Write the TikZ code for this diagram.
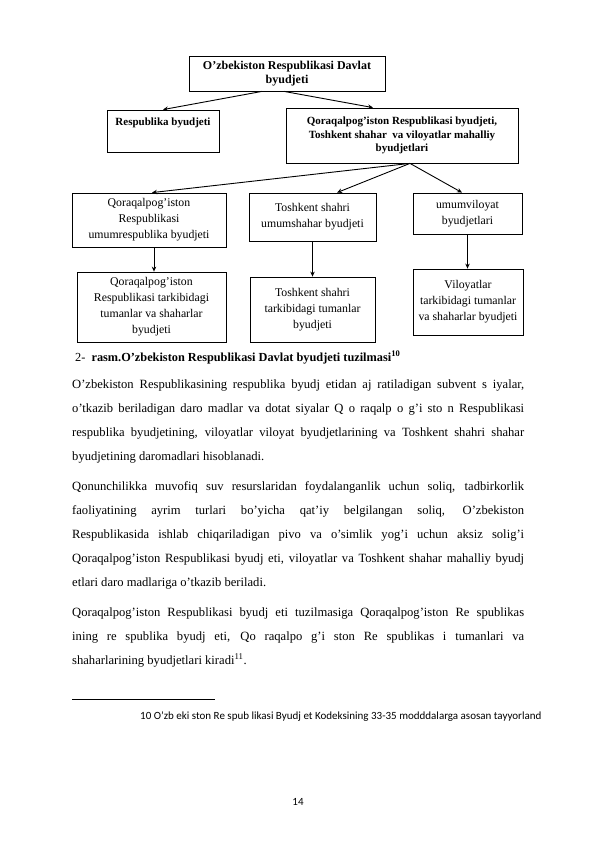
\documentclass[tikz,border=0pt]{standalone}
\usepackage{fontspec}
\setmainfont{Liberation Serif}
\newfontfamily\calibri{Carlito}
\usetikzlibrary{arrows.meta}

\begin{document}
\begin{tikzpicture}[x=1pt, y=-1pt,
  box/.style={draw, line width=0.8pt, inner sep=0pt, align=center, font=\fontsize{11.8}{16}\selectfont},
  hbox/.style={box, font=\bfseries\fontsize{11}{13.5}\selectfont},
  arr/.style={-{Stealth[length=5pt, width=4.5pt]}, line width=0.9pt},
  txt/.style={anchor=base west, inner sep=0pt, font=\fontsize{12.6}{14}\selectfont}]
\useasboundingbox (0,0) rectangle (596,842);

% Draw the boxes of the scheme
\node[hbox, minimum width=196, minimum height=35, font=\bfseries\fontsize{12}{14}\selectfont] (davlat) at (287,73.5) {O’zbekiston Respublikasi Davlat\\byudjeti};
\node[hbox, minimum width=112, minimum height=42, label={[name=respT, anchor=north, yshift=-5pt, font=\bfseries\fontsize{11}{13}\selectfont]north:Respublika byudjeti}] (resp) at (163,131) {};
\node[hbox, minimum width=232, minimum height=55] (mahal) at (402,135.5) {Qoraqalpog’iston Respublikasi byudjeti,\\Toshkent shahar~ va viloyatlar mahalliy\\byudjetlari};
\node[box, minimum width=154, minimum height=54] (qqr) at (149,220) {Qoraqalpog’iston\\Respublikasi\\umumrespublika byudjeti};
\node[box, minimum width=127, minimum height=48] (tosh) at (312.5,217) {Toshkent shahri\\umumshahar byudjeti};
\node[box, minimum width=109, minimum height=41] (vil) at (467.5,213.5) {umumviloyat\\byudjetlari};
\node[box, minimum width=149, minimum height=70] (qqrT) at (151.5,307) {Qoraqalpog’iston\\Respublikasi tarkibidagi\\tumanlar va shaharlar\\byudjeti};
\node[box, minimum width=125, minimum height=65] (toshT) at (312.5,309.5) {Toshkent shahri\\tarkibidagi tumanlar\\byudjeti};
\node[box, minimum width=110, minimum height=66] (vilT) at (468,302) {Viloyatlar\\tarkibidagi tumanlar\\va shaharlar byudjeti};

% Arrows
\draw[arr] ([xshift=-25pt]davlat.south) -- (resp.north);
\draw[arr] ([xshift=-3pt]davlat.south) -- ([xshift=-29pt]mahal.north);
\draw[arr] ([xshift=8pt]mahal.south) -- ([xshift=3pt]qqr.north);
\draw[arr] ([xshift=8pt]mahal.south) -- ([xshift=24.5pt]tosh.north);
\draw[arr] ([xshift=8pt]mahal.south) -- ([xshift=-5.5pt]vil.north);
\draw[arr] ([xshift=5pt]qqr.south) -- ([xshift=5pt]qqr.south |- qqrT.north);
\draw[arr] (tosh.south) -- (tosh.south |- toshT.north);
\draw[arr] (vil.south) -- (vil.south |- vilT.north);

% Caption
\node[txt, font=\fontsize{12.3}{14}\selectfont] (rasm) at (75,361) {2-~ \textbf{rasm.O’zbekiston Respublikasi Davlat byudjeti tuzilmasi\textsuperscript{10}}};

% Text of the page
\node[txt] (p1a) at (72,388) {\makebox[452pt][s]{O’zbekiston Respublikasining respublika byudj etidan aj ratiladigan subvent s iyalar,}};
\node[txt] (p1b) at (72,412) {\makebox[452pt][s]{o’tkazib beriladigan daro madlar va dotat siyalar Q o raqalp o g’i sto n Respublikasi}};
\node[txt] (p1c) at (72,436) {\makebox[452pt][s]{respublika byudjetining, viloyatlar viloyat byudjetlarining va Toshkent shahri shahar}};
\node[txt] (p1d) at (72,460) {byudjetining daromadlari hisoblanadi.};

\node[txt] (p2a) at (72,490) {\makebox[452pt][s]{Qonunchilikka muvofiq suv resurslaridan foydalanganlik uchun soliq, tadbirkorlik}};
\node[txt] (p2b) at (72,514) {\makebox[452pt][s]{faoliyatining ayrim turlari bo’yicha qat’iy belgilangan soliq, O’zbekiston}};
\node[txt] (p2c) at (72,538) {\makebox[452pt][s]{Respublikasida ishlab chiqariladigan pivo va o’simlik yog’i uchun aksiz solig’i}};
\node[txt] (p2d) at (72,562) {\makebox[452pt][s]{Qoraqalpog’iston Respublikasi byudj eti, viloyatlar va Toshkent shahar mahalliy byudj}};
\node[txt] (p2e) at (72,586) {etlari daro madlariga o’tkazib beriladi.};

\node[txt] (p3a) at (72,616) {\makebox[452pt][s]{Qoraqalpog’iston Respublikasi byudj eti tuzilmasiga Qoraqalpog’iston Re spublikas}};
\node[txt] (p3b) at (72,640) {\makebox[452pt][s]{ining re spublika byudj eti, Qo raqalpo g’i ston Re spublikas i tumanlari va}};
\node[txt] (p3c) at (72,664) {shaharlarining byudjetlari kiradi\textsuperscript{11}.};

% Footnote and page number
\draw[line width=0.6pt] (72,699) -- (215,699);
\node[txt, font=\calibri\fontsize{11}{13}\selectfont] (izoh) at (140,719) {10 O’zb eki ston Re spub likasi Byudj et Kodeksining 33-35 modddalarga asosan tayyorland};
\node[anchor=base, inner sep=0pt, font=\calibri\fontsize{11}{13}\selectfont] (bet) at (298,805) {14};
\end{tikzpicture}
\end{document}
